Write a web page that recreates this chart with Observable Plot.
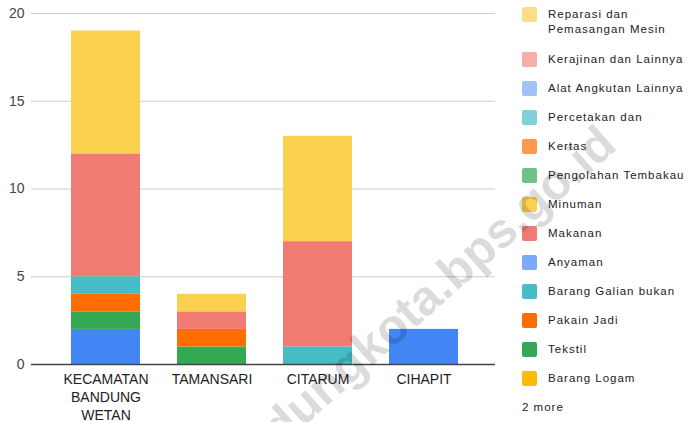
<!DOCTYPE html>
<html><head><meta charset="utf-8">
<script src="https://cdn.jsdelivr.net/npm/d3@7"></script>
<script src="https://cdn.jsdelivr.net/npm/@observablehq/plot@0.6"></script>
<style>
body{margin:0;background:#fff;}
#wrap{position:relative;width:689px;height:422px;overflow:hidden;font-family:Arial,"Liberation Sans",sans-serif;}
#wrap svg{position:absolute;left:0;top:0;}
.lg-sw{position:absolute;left:522px;width:15px;height:15px;border-radius:2px;}
.lg-tx{position:absolute;left:548px;width:140px;font-size:11.5px;line-height:15px;letter-spacing:1px;color:#222;}
.wm{position:absolute;left:406px;top:314px;transform:translate(-50%,-50%) rotate(-41.5deg);font-size:49px;font-weight:bold;line-height:1;color:rgba(0,0,0,0.14);white-space:nowrap;pointer-events:none;}
</style></head><body><div id="wrap"></div>
<script>
const categories = ["KECAMATAN BANDUNG WETAN", "TAMANSARI", "CITARUM", "CIHAPIT"];
const categoryLabels = ["KECAMATAN\nBANDUNG\nWETAN", "TAMANSARI", "CITARUM", "CIHAPIT"];
const seriesNames = ["Kayu", "Kulit", "Barang Logam", "Tekstil", "Pakain Jadi", "Barang Galian bukan", "Anyaman", "Makanan", "Minuman", "Pengolahan Tembakau", "Kertas", "Percetakan dan", "Alat Angkutan Lainnya", "Kerajinan dan Lainnya", "Reparasi dan Pemasangan Mesin"];
const seriesColors = ["#4285F4", "#EA4335", "#FBBC04", "#34A853", "#FF6D01", "#46BDC6", "#7BAAF7", "#F07B72", "#FCD04F", "#71C287", "#FF994D", "#7ED1D7", "#A0C2F9", "#F6AEA9", "#FDDE86"];
// values per series, in category order
const kayu = [2, 0, 0, 2];
const kulit = [0, 0, 0, 0];
const barangLogam = [0, 0, 0, 0];
const tekstil = [1, 1, 0, 0];
const pakainJadi = [1, 1, 0, 0];
const barangGalian = [1, 0, 1, 0];
const anyaman = [0, 0, 0, 0];
const makanan = [7, 1, 6, 0];
const minuman = [7, 1, 6, 0];
const tembakau = [0, 0, 0, 0];
const kertas = [0, 0, 0, 0];
const percetakan = [0, 0, 0, 0];
const alatAngkutan = [0, 0, 0, 0];
const kerajinan = [0, 0, 0, 0];
const reparasi = [0, 0, 0, 0];
const seriesValues = [kayu, kulit, barangLogam, tekstil, pakainJadi, barangGalian, anyaman, makanan, minuman, tembakau, kertas, percetakan, alatAngkutan, kerajinan, reparasi];
const yTicks = [0, 5, 10, 15, 20];
const legendShown = 13;
const moreLabel = "2 more";
const watermark = "bandungkota.bps.go.id";

const rows = [];
seriesNames.forEach((s, i) => categories.forEach((c, j) => {
  if (seriesValues[i][j] > 0) rows.push({category: c, series: s, value: seriesValues[i][j]});
}));

const chart = Plot.plot({
  width: 689, height: 422,
  marginLeft: 31, marginRight: 194, marginTop: 13, marginBottom: 58,
  style: {fontFamily: "Arial, 'Liberation Sans', sans-serif", fontSize: "14px", background: "transparent", overflow: "visible"},
  x: {domain: categories, range: [70, 458], paddingInner: 0.351, paddingOuter: 0, label: null},
  y: {domain: [0, 20], label: null},
  color: {domain: seriesNames, range: seriesColors},
  marks: [
    Plot.gridY(yTicks, {stroke: "#cccccc", strokeOpacity: 1}),
    Plot.barY(rows, {x: "category", y: "value", fill: "series"}),
    Plot.ruleY([0], {stroke: "#444", strokeWidth: 1.3}),
    Plot.axisY(yTicks, {tickSize: 0, tickPadding: 7, fill: "#444", label: null}),
    Plot.axisX({tickSize: 0, tickPadding: 7, tickFormat: d => categoryLabels[categories.indexOf(d)], lineHeight: 1.28, fill: "#222", label: null})
  ]
});
const wrap = document.getElementById("wrap");
wrap.appendChild(chart);

// legend (reverse order, top of stack first)
const legendOrder = seriesNames.map((s, i) => i).reverse().slice(0, legendShown);
legendOrder.forEach((si, k) => {
  const cy = k === 0 ? 14 : 59 + 29 * (k - 1);
  const sw = document.createElement("div");
  sw.className = "lg-sw";
  sw.style.top = (cy - 7.5) + "px";
  sw.style.background = seriesColors[si];
  wrap.appendChild(sw);
  const tx = document.createElement("div");
  tx.className = "lg-tx";
  tx.style.top = (cy - 7.5) + "px";
  tx.textContent = seriesNames[si];
  wrap.appendChild(tx);
});
const more = document.createElement("div");
more.className = "lg-tx";
more.style.left = "522px";
more.style.top = (59 + 29 * (legendShown - 1) - 7.5) + "px";
more.textContent = moreLabel;
wrap.appendChild(more);

const wm = document.createElement("div");
wm.className = "wm";
wm.textContent = watermark;
wrap.appendChild(wm);
</script>
</body></html>
